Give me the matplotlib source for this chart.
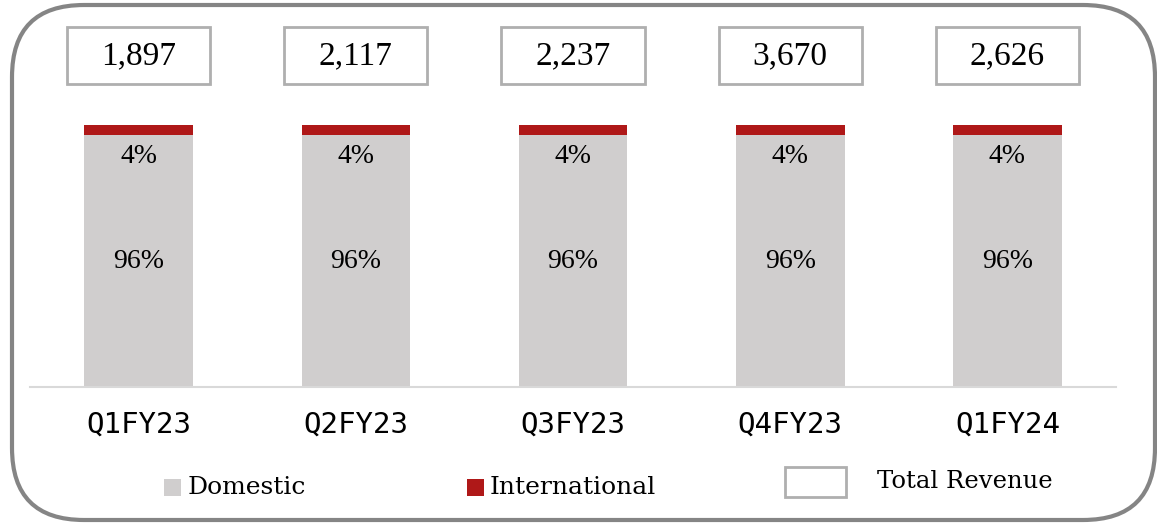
import matplotlib
matplotlib.use("Agg")
import matplotlib.pyplot as plt
from matplotlib.patches import Rectangle, FancyBboxPatch
from matplotlib.transforms import blended_transform_factory

# data
quarters = ["Q1FY23", "Q2FY23", "Q3FY23", "Q4FY23", "Q1FY24"]
domestic = [96, 96, 96, 96, 96]
international = [4, 4, 4, 4, 4]
total_revenue = ["1,897", "2,117", "2,237", "3,670", "2,626"]

C_DOM = "#D0CECE"
C_INT = "#AF1818"
NUM_FONT = ["Liberation Serif", "DejaVu Serif"]
TXT_FONT = ["DejaVu Serif"]
W, H = 1157, 523

fig = plt.figure(figsize=(W / 100, H / 100), dpi=100)


def fx(x):
    return x / W


def fy(y):
    return 1 - y / H


# rounded outer frame
frame = FancyBboxPatch((0.12, 0.03), 11.43, 5.15,
                       boxstyle="round,pad=0,rounding_size=0.72",
                       transform=fig.dpi_scale_trans, facecolor="none",
                       edgecolor="#858585", linewidth=3)
fig.add_artist(frame)

ax = fig.add_axes([fx(30), fy(387), fx(1086), 262 / H])
xs = list(range(len(quarters)))
ax.bar(xs, domestic, width=0.5, color=C_DOM)
ax.bar(xs, international, bottom=domestic, width=0.5, color=C_INT)
ax.set_xlim(-0.5, len(quarters) - 0.5)
ax.set_ylim(0, 100)

for s in ["top", "right", "left"]:
    ax.spines[s].set_visible(False)
ax.spines["bottom"].set_color("#D9D9D9")
ax.spines["bottom"].set_linewidth(1.5)
ax.set_yticks([])
ax.set_xticks(xs)
ax.set_xticklabels(quarters, fontfamily="DejaVu Sans Mono", fontsize=21)
ax.tick_params(axis="x", length=0, pad=17)

for i in xs:
    d, n = domestic[i], international[i]
    ax.text(i, d / 2, f"{d}%", ha="center", va="center",
            fontsize=20, family=NUM_FONT)
    ax.annotate(f"{n}%", (i, d), xytext=(0, -15), textcoords="offset points",
                ha="center", va="center", fontsize=20, family=NUM_FONT)

# total revenue boxes
bt = blended_transform_factory(ax.transData, ax.transAxes)
bw = 0.66
for i, val in enumerate(total_revenue):
    ax.add_patch(Rectangle((i - bw / 2, 1.156), bw, 0.218, transform=bt,
                           facecolor="white", edgecolor="#AFAFAF",
                           linewidth=2, clip_on=False))
    ax.text(i, 1.265, val, transform=bt, ha="center", va="center",
            fontsize=24, family=NUM_FONT)

# legend
fig.add_artist(Rectangle((fx(164), fy(496)), fx(17), 17 / H,
                         transform=fig.transFigure, facecolor=C_DOM, edgecolor="none"))
fig.text(fx(188), fy(487), "Domestic", va="center", fontsize=18, family=TXT_FONT)
fig.add_artist(Rectangle((fx(467), fy(496)), fx(17), 17 / H,
                         transform=fig.transFigure, facecolor=C_INT, edgecolor="none"))
fig.text(fx(490), fy(487), "International", va="center", fontsize=18, family=TXT_FONT)
fig.add_artist(Rectangle((fx(785), fy(497)), fx(61), 30 / H,
                         transform=fig.transFigure, facecolor="white",
                         edgecolor="#AFAFAF", linewidth=2))
fig.text(fx(877), fy(482), "Total Revenue", va="center", fontsize=17.5, family=TXT_FONT)

fig.savefig("out.png", dpi=100)
